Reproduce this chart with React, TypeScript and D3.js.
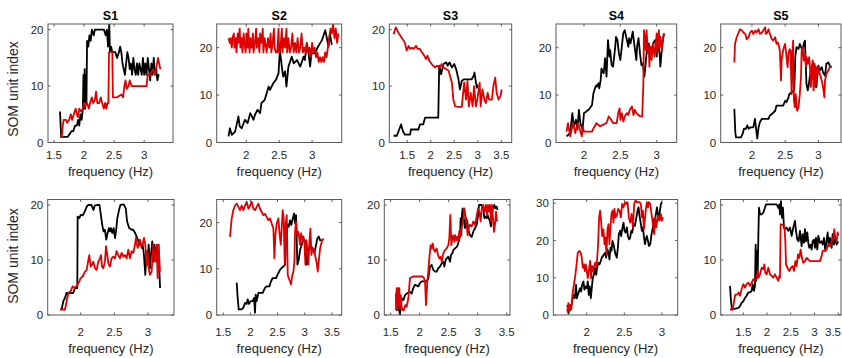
import React from "react";
import * as d3 from "d3";

type Pt = [number, number];

const subjectTitles = ["S1", "S2", "S3", "S4", "S5"];
const xLabelText = "frequency (Hz)";
const yLabelText = "SOM unit index";

const xTicksA = [1.5, 2, 2.5, 3];
const xTicksB = [2, 2.5, 3];
const xTicksC = [1.5, 2, 2.5, 3, 3.5];
const yTicks20 = [0, 10, 20];
const yTicks30 = [0, 10, 20, 30];

// ---------- top row ----------
const s1TopBlack: Pt[] = [[1.60,5.5],[1.61,3],[1.62,1],[1.66,1],[1.70,1],[1.73,1],[1.76,1.5],[1.79,2],[1.82,2],[1.85,3],[1.88,3],[1.90,4],[1.92,3],[1.94,5],[1.96,4],[1.98,6],[1.99,12],[2.0,6],[2.01,13],[2.02,6],[2.03,12],[2.04,7],[2.05,18],[2.07,17],[2.09,19],[2.11,18],[2.13,20],[2.16,19],[2.18,20],[2.25,20],[2.33,20],[2.36,19],[2.38,20],[2.40,17],[2.42,21],[2.43,16],[2.45,17],[2.47,16],[2.52,16],[2.55,15],[2.58,16],[2.60,17],[2.62,16],[2.64,14],[2.66,13],[2.68,12],[2.70,14],[2.72,16],[2.74,15],[2.76,13],[2.78,14],[2.80,12],[2.82,15],[2.84,13],[2.86,12],[2.88,14],[2.90,12],[2.92,14],[2.94,13],[2.96,12],[2.98,15],[3.00,12],[3.02,14],[3.04,12],[3.06,15],[3.08,13],[3.10,11],[3.12,14],[3.14,12],[3.16,15],[3.18,12],[3.20,13],[3.22,11],[3.24,12],[3.25,12]];
const s1TopRed: Pt[] = [[1.60,1],[1.63,1],[1.645,3],[1.66,4],[1.70,4],[1.72,3.5],[1.75,4],[1.78,5],[1.80,4],[1.83,5],[1.86,6],[1.88,5],[1.90,4.5],[1.92,6],[1.95,5.5],[1.98,6],[2.00,7],[2.02,6.5],[2.05,7],[2.08,6],[2.10,7],[2.13,8],[2.15,7],[2.18,7.5],[2.20,9],[2.22,7],[2.25,7],[2.28,8],[2.30,7],[2.33,6],[2.35,7],[2.37,6],[2.39,7],[2.405,7],[2.415,16],[2.47,16],[2.48,8],[2.55,8],[2.62,8.5],[2.65,8],[2.67,10],[2.69,11],[2.71,9.5],[2.74,10],[2.76,11],[2.79,10],[2.83,10],[2.90,10],[3.00,10],[3.04,10],[3.06,12],[3.09,12],[3.12,12.5],[3.15,13],[3.18,12],[3.20,13],[3.23,15],[3.25,14],[3.27,13]];

const s2TopBlack: Pt[] = [[1.73,1.3],[1.75,3],[1.78,1.6],[1.83,2.3],[1.88,5.5],[1.90,3.4],[1.93,3],[1.98,4.8],[2.02,4.1],[2.06,6.2],[2.11,4.8],[2.13,5.8],[2.17,6.9],[2.21,6.2],[2.23,8.3],[2.28,9],[2.34,11.8],[2.36,11.1],[2.41,12.5],[2.45,13.2],[2.49,14.6],[2.51,19.5],[2.54,16],[2.56,13.9],[2.59,15],[2.61,11.8],[2.64,16],[2.69,18.1],[2.72,16.7],[2.77,17.4],[2.82,16],[2.87,18.1],[2.89,17.4],[2.92,20.9],[2.94,19.5],[2.97,16],[2.99,18.8],[3.04,18.8],[3.09,20.2],[3.15,21.6],[3.20,23.7],[3.22,22.3],[3.25,20.2],[3.27,23],[3.30,20.6]];
const s2TopRed: Pt[] = [[1.73,22],[1.75,21],[1.76,22],[1.78,20],[1.79,22],[1.81,23],[1.82,20],[1.84,22],[1.85,19],[1.87,23],[1.88,21],[1.90,24],[1.91,20],[1.93,22],[1.94,19],[1.96,23],[1.97,21],[1.99,19],[2.00,23],[2.02,20],[2.03,24],[2.05,19],[2.06,22],[2.08,20],[2.10,23],[2.11,19],[2.13,21],[2.15,24],[2.16,20],[2.18,22],[2.20,19],[2.21,23],[2.23,21],[2.25,24],[2.26,19],[2.28,22],[2.30,20],[2.31,19],[2.33,22],[2.35,20],[2.37,23],[2.38,19],[2.40,21],[2.42,24],[2.43,20],[2.45,19],[2.47,19],[2.49,24],[2.50,19],[2.52,20],[2.54,24],[2.55,19],[2.57,22],[2.59,20],[2.61,24],[2.62,19],[2.64,22],[2.66,19],[2.68,20],[2.70,23],[2.72,19],[2.74,21],[2.76,19],[2.78,22],[2.80,19],[2.82,20],[2.84,23],[2.86,19],[2.88,20],[2.90,19],[2.92,21],[2.94,19],[2.96,20],[2.98,18],[3.00,21],[3.02,19],[3.04,20],[3.06,18],[3.08,19],[3.10,17],[3.12,18],[3.14,17],[3.16,18],[3.18,17],[3.20,19],[3.22,18],[3.24,20],[3.26,22],[3.28,24],[3.30,23],[3.32,25],[3.34,22],[3.36,24],[3.38,21],[3.40,23]];

const s3TopBlack: Pt[] = [[1.21,1.2],[1.28,1.2],[1.33,2.3],[1.37,3.2],[1.41,2],[1.45,1.4],[1.56,1.4],[1.58,2.3],[1.74,2.3],[1.77,3.2],[1.84,3.2],[1.88,4.4],[2.16,4.4],[2.18,13.6],[2.22,12.1],[2.27,13.9],[2.33,14.2],[2.36,13.6],[2.40,14.2],[2.45,13.3],[2.50,13.9],[2.54,13],[2.59,11.2],[2.62,9.4],[2.66,10.9],[2.70,11.2],[2.87,11.2],[2.91,11.8],[2.93,12.4],[2.95,11.2],[2.98,9.7],[3.0,10.3]];
const s3TopRed: Pt[] = [[1.21,19.2],[1.26,20.4],[1.31,19.5],[1.38,18.6],[1.45,17.7],[1.49,16.3],[1.53,17.1],[1.56,16.6],[1.60,16.8],[1.63,16.6],[1.69,17.1],[1.72,16.6],[1.77,16.6],[1.81,16],[1.84,15.7],[1.90,14.8],[1.93,15.4],[1.97,14.5],[2.02,13.9],[2.09,13.3],[2.13,13.6],[2.20,13.3],[2.23,13.9],[2.27,13.3],[2.33,13],[2.38,12.7],[2.41,11.8],[2.45,10.6],[2.48,7.6],[2.52,6.4],[2.59,6.3],[2.66,6.3],[2.71,10.6],[2.75,7.6],[2.78,10.9],[2.81,6.4],[2.85,8.8],[2.89,6.4],[2.92,10],[2.96,6.4],[2.99,7.6],[3.04,10.6],[3.06,6.4],[3.10,9.4],[3.14,7.6],[3.17,7],[3.21,8.8],[3.24,7.6],[3.30,7.6],[3.33,10],[3.37,11.5],[3.40,8.8],[3.44,7.6],[3.48,8.2],[3.51,9.4]];

const s4TopBlack: Pt[] = [[1.76,1.3],[1.81,2],[1.84,6.2],[1.86,3.4],[1.89,4.8],[1.91,2.7],[1.93,6.9],[1.95,4.1],[1.98,2.7],[2.0,6.2],[2.03,6.5],[2.06,6.9],[2.08,7.2],[2.11,7.9],[2.13,10.4],[2.15,11.4],[2.17,12.1],[2.18,11.8],[2.20,12.5],[2.21,11.4],[2.23,13.2],[2.24,15.6],[2.27,14.6],[2.28,16],[2.29,17.8],[2.31,13.9],[2.33,21.6],[2.35,18.1],[2.36,19.5],[2.38,16.3],[2.40,16],[2.43,20.2],[2.44,22.3],[2.46,21.6],[2.48,18.8],[2.50,17.4],[2.52,20.2],[2.54,23],[2.56,23.7],[2.59,21.6],[2.61,20.2],[2.62,22],[2.64,20.9],[2.67,23.4],[2.69,20.9],[2.72,17.4],[2.73,20.2],[2.75,22],[2.77,18.8],[2.79,16.3],[2.81,16.7],[2.83,13.9],[2.84,15.3],[2.86,18.8],[2.89,20.9],[2.91,18.5],[2.93,19.5],[2.95,20.9],[2.98,21.6],[3.0,18.1],[3.02,20.9],[3.04,18.8],[3.05,16],[3.07,19.5],[3.08,20.9],[3.10,23]];
const s4TopRed: Pt[] = [[1.76,2.3],[1.78,4.1],[1.81,1.3],[1.83,2.7],[1.85,4.1],[1.88,2],[1.90,3.4],[1.92,4.1],[1.95,2.3],[1.97,1.3],[1.98,3.4],[2.0,2.3],[2.11,2.3],[2.13,3],[2.15,3.4],[2.17,4.1],[2.20,3.7],[2.22,3.4],[2.31,4.1],[2.34,5.5],[2.36,5.1],[2.40,4.1],[2.45,4.1],[2.47,6.2],[2.49,7.2],[2.50,4.8],[2.52,6.2],[2.54,4.4],[2.56,5.5],[2.59,6.2],[2.61,5.8],[2.63,6.9],[2.66,7.6],[2.68,5.8],[2.70,6.9],[2.72,6.2],[2.75,5.8],[2.77,5.5],[2.80,5.5],[2.816,12.1],[2.825,23.7],[2.84,21.6],[2.85,19.5],[2.86,23.7],[2.88,18.8],[2.89,20.2],[2.90,16],[2.91,20.2],[2.93,17.4],[2.94,19.5],[2.95,20.9],[2.97,18.1],[2.98,19.5],[3.0,23],[3.01,18.8],[3.03,23.7],[3.04,20.2],[3.05,22.3],[3.07,19.5],[3.08,21.6],[3.10,23]];

const s5TopBlack: Pt[] = [[1.735,7.1],[1.75,2.2],[1.76,1.1],[1.835,1.1],[1.86,1.8],[1.88,2.9],[1.91,2.9],[1.93,3.6],[1.95,2.9],[1.98,3.2],[2.02,3.2],[2.046,5],[2.06,3.2],[2.08,0.8],[2.10,3.2],[2.12,4.3],[2.15,5],[2.25,5],[2.27,5.7],[2.30,6],[2.35,6.7],[2.37,7.8],[2.47,7.8],[2.50,8.8],[2.52,8.5],[2.55,9.5],[2.56,10.2],[2.60,10.6],[2.62,10.9],[2.637,11.3],[2.652,18],[2.67,20.1],[2.70,19.7],[2.72,20.8],[2.74,20.1],[2.76,19.4],[2.78,20.8],[2.798,21.5],[2.808,17.3],[2.82,12.4],[2.84,11],[2.85,11.7],[2.87,13.8],[2.90,15.9],[2.92,16.9],[2.95,15.9],[2.97,11.7],[2.99,15.2],[3.0,16.2],[3.02,15.2],[3.05,15.9],[3.07,14.8],[3.10,14.1],[3.12,16.6],[3.15,16.9],[3.17,16.2],[3.20,15.9]];
const s5TopRed: Pt[] = [[1.735,16.9],[1.745,20.8],[1.77,22.2],[1.80,23.2],[1.82,23.9],[1.85,23.6],[1.87,23.2],[1.90,22.9],[1.92,21.8],[1.95,22.2],[1.97,23.2],[2.0,23.6],[2.02,22.9],[2.05,23.6],[2.07,23.2],[2.10,23.9],[2.12,22.9],[2.15,23.2],[2.17,23.6],[2.20,24.3],[2.21,22.9],[2.23,23.2],[2.25,23.9],[2.27,22.9],[2.30,21.8],[2.32,21.5],[2.35,22.2],[2.37,20.8],[2.39,21.1],[2.41,20.1],[2.42,19.4],[2.437,13.1],[2.447,17.3],[2.46,18.7],[2.48,20.1],[2.50,20.8],[2.52,18],[2.537,15.9],[2.55,18.7],[2.567,19.7],[2.58,19.4],[2.597,10.2],[2.607,18.7],[2.62,21.5],[2.632,8.8],[2.647,7.4],[2.66,10.2],[2.67,8.1],[2.68,6.7],[2.70,7.4],[2.71,8.8],[2.72,10.2],[2.738,13.8],[2.748,19.4],[2.763,20.1],[2.78,17.3],[2.80,18.7],[2.813,15.9],[2.823,18],[2.84,16.6],[2.86,18],[2.87,16.6],[2.888,11.7],[2.903,15.9],[2.913,17.3],[2.928,11],[2.943,16.6],[2.958,11.7],[2.973,15.9],[2.99,14.5],[3.0,15.9],[3.02,14.5],[3.05,13.1],[3.07,11.7],[3.09,9.5],[3.10,13.1],[3.12,14.5],[3.15,15.2],[3.17,15.9],[3.20,15.9]];

// ---------- bottom row ----------
const s1BotBlack: Pt[] = [[1.717,1],[1.742,2.5],[1.767,3.1],[1.79,4],[1.89,4],[1.915,4.9],[1.95,4.9],[1.955,17.9],[1.98,17.6],[2.0,18.2],[2.03,18.1],[2.06,18.8],[2.09,19.7],[2.11,20],[2.16,20],[2.19,19.1],[2.21,19.9],[2.24,20],[2.28,20],[2.30,18.2],[2.32,16.4],[2.34,15.2],[2.36,15.5],[2.38,13.7],[2.40,14.9],[2.42,15.8],[2.435,15.2],[2.45,15.8],[2.47,14.9],[2.49,15.8],[2.51,14],[2.525,15.2],[2.545,17.6],[2.57,19.1],[2.59,20],[2.64,20.1],[2.67,19.4],[2.69,17],[2.72,15.8],[2.76,15.5],[2.78,15.5],[2.81,14.9],[2.83,14.3],[2.86,13.4],[2.87,12.8],[2.89,13.1],[2.91,12.2],[2.92,12.8],[2.94,11],[2.96,7.3],[2.98,11.6],[2.995,9.1],[3.01,12.8],[3.03,8.5],[3.045,11],[3.064,13.4],[3.08,9.7],[3.094,12.8],[3.114,11.6],[3.13,9.7],[3.154,12.8],[3.17,7.9],[3.18,4.9]];
const s1BotRed: Pt[] = [[1.693,1],[1.767,1],[1.816,4],[1.85,4.3],[1.88,5.2],[1.915,4.9],[1.95,5.5],[1.98,6.1],[2.0,6.7],[2.03,7],[2.064,7.9],[2.09,8.2],[2.11,9.7],[2.128,10.9],[2.148,8.8],[2.168,9.1],[2.188,9.7],[2.213,8.5],[2.237,8.2],[2.262,9.7],[2.287,10.3],[2.302,10.9],[2.317,8.8],[2.336,8.5],[2.361,9.7],[2.376,12.5],[2.396,10.9],[2.411,9.4],[2.435,8.8],[2.46,10.3],[2.485,10.6],[2.51,10.3],[2.534,11.6],[2.559,10.9],[2.584,10.3],[2.609,11.3],[2.634,10.6],[2.658,10.9],[2.683,10.3],[2.708,11.9],[2.733,10.3],[2.757,11.6],[2.782,11.3],[2.807,12.8],[2.822,14],[2.832,13.1],[2.847,12.2],[2.866,12.8],[2.881,13.7],[2.901,12.5],[2.921,12.8],[2.941,14],[2.96,12.8],[2.98,9.1],[2.995,11.6],[3.01,8.5],[3.03,7.3],[3.055,7.9],[3.079,12.8],[3.104,9.7],[3.129,12.8],[3.144,6.7],[3.159,12.8],[3.178,7.9]];

const s2BotBlack: Pt[] = [[1.748,7],[1.766,3.7],[1.785,1.2],[1.84,1.2],[1.871,1.6],[1.901,2.6],[1.932,2.4],[1.95,3.4],[1.975,2.4],[2.006,3],[2.042,3],[2.067,3.7],[2.085,0.5],[2.098,4.4],[2.116,3],[2.147,4.8],[2.227,4.8],[2.27,5.9],[2.30,6.2],[2.349,6.2],[2.38,7.3],[2.411,8],[2.472,8],[2.497,8.7],[2.515,9.1],[2.546,9.8],[2.576,10.2],[2.607,10.5],[2.638,10.9],[2.656,15.2],[2.681,19.5],[2.705,19.1],[2.73,20.5],[2.754,19.5],[2.779,20.9],[2.804,22],[2.822,19.8],[2.84,21.6],[2.865,10.9],[2.89,12],[2.914,14.1],[2.945,15.2],[2.975,16.6],[3.006,15.9],[3.037,10.9],[3.061,13.7],[3.086,14.1],[3.111,15.2],[3.147,14.1],[3.178,13.4],[3.209,15.2],[3.233,16.6],[3.258,17],[3.282,16.2],[3.313,16.2]];
const s2BotRed: Pt[] = [[1.625,16.9],[1.656,20.9],[1.686,22.7],[1.717,23.7],[1.748,24.1],[1.778,23.4],[1.809,22.7],[1.84,23.7],[1.871,22.7],[1.901,23.7],[1.932,24.5],[1.963,23],[1.993,23.7],[2.024,24.5],[2.055,23],[2.085,22.7],[2.116,23.4],[2.147,24.1],[2.177,23],[2.208,22.3],[2.239,21.6],[2.27,21.9],[2.30,21.2],[2.331,20.5],[2.362,20.9],[2.392,19.8],[2.423,18.7],[2.441,12.3],[2.46,17.3],[2.484,19.8],[2.515,20.9],[2.534,18],[2.558,15.2],[2.576,18.7],[2.595,22.7],[2.613,20.9],[2.632,10.9],[2.65,19.8],[2.669,21.6],[2.687,8.7],[2.705,8],[2.73,7.3],[2.748,6.6],[2.767,8.4],[2.791,9.4],[2.81,11.6],[2.822,18],[2.84,20.2],[2.859,17.3],[2.883,18],[2.914,15.2],[2.933,17.7],[2.957,16.2],[2.975,17],[2.994,15.5],[3.012,10.9],[3.031,16.2],[3.049,14.4],[3.068,10.9],[3.086,15.9],[3.104,18.7],[3.123,13],[3.141,14.4],[3.16,14.4],[3.19,13],[3.221,11.2],[3.239,9.4],[3.258,11.6],[3.282,14.4],[3.313,15.9],[3.344,16.6]];

const s3BotBlack: Pt[] = [[1.592,3.9],[1.603,0.9],[1.632,1.8],[1.66,0],[1.689,3],[1.718,2.7],[1.747,3.6],[1.775,3.9],[1.833,4.2],[1.862,3.9],[1.89,4.9],[1.919,5.5],[1.977,5.2],[2.005,5.8],[2.034,6.1],[2.12,6.1],[2.149,6.7],[2.178,8.8],[2.206,9.1],[2.235,8.2],[2.264,7.9],[2.293,7.9],[2.321,8.5],[2.35,8.8],[2.379,9.4],[2.408,9.7],[2.425,8.8],[2.448,10],[2.465,10.3],[2.494,10.6],[2.523,9.7],[2.54,10.9],[2.563,11.2],[2.58,11.8],[2.609,12.1],[2.638,12.4],[2.655,12.7],[2.672,13.3],[2.695,14.5],[2.706,17.6],[2.718,14.5],[2.729,18.2],[2.741,19.4],[2.758,17.6],[2.781,15.8],[2.798,17.6],[2.821,17],[2.839,15.5],[2.867,14.5],[2.896,14.2],[2.925,15.2],[2.954,15.8],[2.982,16.4],[3.0,17.6],[3.023,20],[3.069,20],[3.097,19.4],[3.114,17.6],[3.137,17.9],[3.155,17.6],[3.172,18.2],[3.189,17.6],[3.212,17],[3.229,16.1],[3.252,18.8],[3.27,19.7],[3.287,20],[3.304,19.4],[3.327,19.7],[3.344,19.1]];
const s3BotRed: Pt[] = [[1.592,0.9],[1.603,4.9],[1.615,0.9],[1.626,4.9],[1.638,1.8],[1.649,4.9],[1.66,1.2],[1.672,3.6],[1.689,1.5],[1.706,0.9],[1.729,0.9],[1.752,1.8],[1.775,1.5],[1.804,3],[1.833,6.7],[1.89,7],[2.051,7],[2.074,6.7],[2.092,6.1],[2.109,1.8],[2.132,6.1],[2.149,7.9],[2.166,10.3],[2.189,12.7],[2.206,12.1],[2.224,13],[2.247,11.8],[2.264,11.5],[2.293,12.1],[2.316,10.9],[2.339,10.3],[2.362,10.6],[2.379,9.7],[2.408,11.2],[2.436,11.8],[2.465,12.1],[2.494,12.7],[2.511,14],[2.528,18.2],[2.546,12.7],[2.563,14],[2.58,14.5],[2.597,13.3],[2.615,14.5],[2.632,13.6],[2.649,14.2],[2.666,13.6],[2.683,15.2],[2.701,14.2],[2.718,15.8],[2.735,16.4],[2.752,17.6],[2.77,19.4],[2.787,18.2],[2.81,16.4],[2.827,14.5],[2.844,15.8],[2.867,16.4],[2.896,16.1],[2.925,17],[2.954,16.4],[2.982,17.9],[3.005,19.4],[3.028,18.8],[3.051,17],[3.074,19.7],[3.097,20],[3.126,18.8],[3.143,20],[3.16,18.2],[3.178,20],[3.195,18.8],[3.212,20],[3.229,17],[3.247,20],[3.264,17.6],[3.281,15.1],[3.298,16.4],[3.316,18.8],[3.333,17]];

const s4BotBlack: Pt[] = [[1.742,2.7],[1.756,0.4],[1.769,2.3],[1.787,1.4],[1.805,3.6],[1.822,5.4],[1.84,4.5],[1.858,8.1],[1.867,4.5],[1.889,5.9],[1.911,7.2],[1.925,6.3],[1.938,8.1],[1.956,9],[1.969,6.8],[1.982,7.7],[2.0,7.2],[2.014,9],[2.027,5.4],[2.04,7.7],[2.054,4.5],[2.067,7.2],[2.08,9.9],[2.094,10.8],[2.111,12.7],[2.125,10.8],[2.138,12.7],[2.156,14],[2.169,13.6],[2.187,14.5],[2.2,15.4],[2.214,15.8],[2.231,16.3],[2.245,16.7],[2.258,15.4],[2.276,17.6],[2.289,16.7],[2.302,14.9],[2.316,18.1],[2.329,17.2],[2.342,19.9],[2.356,19],[2.369,17.6],[2.382,16.3],[2.4,15.4],[2.414,18.1],[2.427,21.7],[2.445,22.6],[2.458,21.2],[2.471,23],[2.489,24.8],[2.502,22.6],[2.516,22.1],[2.534,23.5],[2.547,21.2],[2.565,20.3],[2.578,20.8],[2.591,22.6],[2.605,22.1],[2.622,24.4],[2.64,23.9],[2.658,25.8],[2.676,28],[2.689,28.9],[2.702,26.7],[2.72,24.4],[2.734,22.6],[2.747,23.5],[2.76,21.2],[2.774,19],[2.787,20.3],[2.8,21.2],[2.814,19.9],[2.827,18.5],[2.845,19],[2.862,21.7],[2.88,23.5],[2.894,25.8],[2.907,25.3],[2.92,27.1],[2.934,28.9],[2.947,27.1],[2.96,25.8],[2.974,28],[2.987,29.8],[3.0,30.3]];
const s4BotRed: Pt[] = [[1.742,0.9],[1.756,3.2],[1.769,0.9],[1.778,2.7],[1.796,1.8],[1.809,5.4],[1.822,7.2],[1.836,9],[1.849,10.8],[1.867,14],[1.88,16.7],[1.902,17.2],[1.92,16.7],[1.934,15.4],[1.947,12.7],[1.96,13.6],[1.974,11.8],[1.987,13.6],[2.0,11.8],[2.014,9.9],[2.027,11.8],[2.045,14.5],[2.058,9.9],[2.071,13.1],[2.085,11.8],[2.098,13.1],[2.111,14],[2.125,13.1],[2.138,14.9],[2.151,19],[2.165,26.2],[2.178,28],[2.191,25.3],[2.205,21.2],[2.222,23],[2.236,19],[2.249,20.8],[2.262,16.3],[2.276,23],[2.289,24.4],[2.302,19],[2.316,23.5],[2.329,27.1],[2.342,28],[2.356,24.8],[2.369,28.5],[2.382,26.2],[2.4,26.7],[2.418,28.5],[2.436,28],[2.454,26.2],[2.471,29.8],[2.489,28.9],[2.507,30.3],[2.525,29.8],[2.542,30.3],[2.56,26.2],[2.578,24.8],[2.596,27.1],[2.614,23.5],[2.631,29.8],[2.649,30.8],[2.667,30.3],[2.702,30.3],[2.72,29.8],[2.734,26.2],[2.747,28],[2.76,23],[2.774,25.8],[2.787,28.5],[2.8,30.3],[2.814,28.9],[2.827,30.3],[2.845,29.8],[2.862,27.1],[2.88,24.4],[2.898,21.7],[2.911,26.2],[2.925,23.5],[2.938,25.3],[2.951,26.7],[2.969,25.3],[2.987,27.1],[3.0,25.3],[3.014,26.2]];

const s5BotBlack: Pt[] = [[1.22,5.3],[1.241,2.5],[1.262,1],[1.395,1.3],[1.43,1.6],[1.465,2.2],[1.5,2.5],[1.535,3.1],[1.57,3.5],[1.606,4.1],[1.641,4.1],[1.676,4.4],[1.697,5.6],[1.725,4.4],[1.746,5.3],[1.76,12.8],[1.774,6.2],[1.788,11.6],[1.802,6.8],[1.816,14],[1.83,19.5],[1.851,18.3],[1.886,18.3],[1.921,18.6],[1.956,19.5],[1.977,20.1],[2.202,20.1],[2.237,19.5],[2.258,20.1],[2.272,18.3],[2.293,20.7],[2.314,17.7],[2.335,19.5],[2.356,15.9],[2.377,15.6],[2.413,15.9],[2.448,15.3],[2.483,15.9],[2.518,14.4],[2.553,15.9],[2.588,17.1],[2.609,15.3],[2.637,13.7],[2.665,13.4],[2.693,15.3],[2.728,12.5],[2.749,14.7],[2.777,13.1],[2.799,15.6],[2.82,13.4],[2.848,15],[2.869,13.1],[2.89,12.2],[2.918,12.8],[2.939,11.9],[2.96,13.4],[2.988,13.7],[3.009,12.2],[3.03,14],[3.058,11.9],[3.079,14.4],[3.114,13.1],[3.149,13.4],[3.17,12.8],[3.199,14],[3.227,11.6],[3.255,13.7],[3.276,15],[3.297,12.8],[3.325,14],[3.36,12.2],[3.381,14.7],[3.409,12.8],[3.437,14],[3.465,12.8],[3.5,13.4]];
const s5BotRed: Pt[] = [[1.22,1],[1.276,1],[1.304,2.5],[1.332,3.7],[1.374,3.7],[1.402,4.1],[1.43,3.5],[1.465,4.7],[1.5,5.6],[1.535,5],[1.57,5.6],[1.606,5.9],[1.641,5.3],[1.676,5.9],[1.711,6.5],[1.746,6.2],[1.781,6.8],[1.802,8],[1.823,6.8],[1.851,7.4],[1.886,8.6],[1.921,8.3],[1.942,9.2],[1.963,7.7],[1.992,7.4],[2.027,8.6],[2.062,7.4],[2.097,7.1],[2.132,6.8],[2.167,7.4],[2.202,6.8],[2.237,6.2],[2.258,7.1],[2.272,6.8],[2.286,16.5],[2.364,16.2],[2.385,13.4],[2.399,9.2],[2.427,8.6],[2.469,8],[2.504,8.6],[2.539,8.9],[2.567,8],[2.595,9.8],[2.623,8.9],[2.651,11],[2.679,10.4],[2.707,11.9],[2.735,10.4],[2.763,9.5],[2.799,9.8],[2.834,10.4],[2.869,10.1],[2.904,9.8],[3.114,9.8],[3.149,10.7],[3.17,11.6],[3.255,11.9],[3.29,12.8],[3.325,12.5],[3.36,13.4],[3.395,14],[3.416,15.6],[3.437,14],[3.465,13.4],[3.486,15],[3.5,14.4]];

// ---------- layout ----------
const ROW_TOP = { top: 24, bottom: 142.5, tickBase: 159, labelBase: 175.5, yLabelCenter: 89, titleBase: 19.5 };
const ROW_BOT = { top: 199.5, bottom: 315, tickBase: 336, labelBase: 353, yLabelCenter: 256, titleBase: 0 };

const panels = [
  { row: ROW_TOP, left: 48, right: 173, xDomain: [1.4, 3.48], yDomain: [0, 21], xTicks: xTicksA, yTicks: yTicks20, black: s1TopBlack, red: s1TopRed, title: subjectTitles[0], yLabel: true },
  { row: ROW_TOP, left: 216.7, right: 341.7, xDomain: [1.55, 3.45], yDomain: [0, 25], xTicks: xTicksB, yTicks: yTicks20, black: s2TopBlack, red: s2TopRed, title: subjectTitles[1], yLabel: false },
  { row: ROW_TOP, left: 389.3, right: 511.7, xDomain: [1.12, 3.72], yDomain: [0, 21], xTicks: xTicksC, yTicks: yTicks20, black: s3TopBlack, red: s3TopRed, title: subjectTitles[2], yLabel: false },
  { row: ROW_TOP, left: 556, right: 676.7, xDomain: [1.615, 3.275], yDomain: [0, 25], xTicks: xTicksB, yTicks: yTicks20, black: s4TopBlack, red: s4TopRed, title: subjectTitles[3], yLabel: false },
  { row: ROW_TOP, left: 720.7, right: 841, xDomain: [1.53, 3.34], yDomain: [0, 25], xTicks: xTicksB, yTicks: yTicks20, black: s5TopBlack, red: s5TopRed, title: subjectTitles[4], yLabel: false },
  { row: ROW_BOT, left: 47.7, right: 174, xDomain: [1.51, 3.387], yDomain: [0, 21], xTicks: xTicksB, yTicks: yTicks20, black: s1BotBlack, red: s1BotRed, title: "", yLabel: true },
  { row: ROW_BOT, left: 216.7, right: 341.7, xDomain: [1.38, 3.68], yDomain: [0, 25], xTicks: xTicksC, yTicks: yTicks20, black: s2BotBlack, red: s2BotRed, title: "", yLabel: false },
  { row: ROW_BOT, left: 384.3, right: 510, xDomain: [1.39, 3.557], yDomain: [0, 21], xTicks: xTicksC, yTicks: yTicks20, black: s3BotBlack, red: s3BotRed, title: "", yLabel: false },
  { row: ROW_BOT, left: 553.3, right: 677.7, xDomain: [1.555, 3.21], yDomain: [0, 31], xTicks: xTicksB, yTicks: yTicks30, black: s4BotBlack, red: s4BotRed, title: "", yLabel: false },
  { row: ROW_BOT, left: 720.7, right: 841, xDomain: [1.024, 3.557], yDomain: [0, 21], xTicks: xTicksC, yTicks: yTicks20, black: s5BotBlack, red: s5BotRed, title: "", yLabel: false },
];

const FONT = "'Liberation Sans', Arial, Helvetica, sans-serif";
const AXIS_COLOR = "#5a5a5a";
const TEXT_COLOR = "#262626";
const RED = "#e00000";
const TICK_LEN = 2.5;
const LINE_W = 1.8;

function Panel({ cfg, idx }: { cfg: any; idx: number }) {
  const { row, left, right } = cfg;
  const x = d3.scaleLinear().domain(cfg.xDomain).range([left, right]);
  const y = d3.scaleLinear().domain(cfg.yDomain).range([row.bottom, row.top]);
  const line = d3.line<Pt>().x((d) => x(d[0])).y((d) => y(d[1]));
  const clipId = `clip-${idx}`;
  return (
    <g>
      <defs>
        <clipPath id={clipId}>
          <rect x={left} y={row.top} width={right - left} height={row.bottom - row.top} />
        </clipPath>
      </defs>
      <rect x={left} y={row.top} width={right - left} height={row.bottom - row.top} fill="#fff" />
      <g clipPath={`url(#${clipId})`}>
        <path d={line(cfg.black) || ""} fill="none" stroke="#000" strokeWidth={LINE_W} strokeLinejoin="round" />
        <path d={line(cfg.red) || ""} fill="none" stroke={RED} strokeWidth={LINE_W} strokeLinejoin="round" />
      </g>
      <rect x={left} y={row.top} width={right - left} height={row.bottom - row.top} fill="none" stroke={AXIS_COLOR} strokeWidth={1} />
      {cfg.xTicks.map((t: number) => {
        const xp = x(t);
        const anchorEnd = xp > 830;
        return (
          <g key={`xt${t}`}>
            <line x1={xp} x2={xp} y1={row.bottom} y2={row.bottom - TICK_LEN} stroke={AXIS_COLOR} />
            <line x1={xp} x2={xp} y1={row.top} y2={row.top + TICK_LEN} stroke={AXIS_COLOR} />
            <text x={anchorEnd ? 841 : xp} y={row.tickBase} textAnchor={anchorEnd ? "end" : "middle"} fontSize={11.5} fill={TEXT_COLOR} fontFamily={FONT}>
              {String(t)}
            </text>
          </g>
        );
      })}
      {cfg.yTicks.map((t: number) => (
        <g key={`yt${t}`}>
          <line x1={left} x2={left + TICK_LEN} y1={y(t)} y2={y(t)} stroke={AXIS_COLOR} />
          <line x1={right} x2={right - TICK_LEN} y1={y(t)} y2={y(t)} stroke={AXIS_COLOR} />
          <text x={left - 4.5} y={y(t) + 4.2} textAnchor="end" fontSize={11.5} fill={TEXT_COLOR} fontFamily={FONT}>
            {String(t)}
          </text>
        </g>
      ))}
      <text x={(left + right) / 2} y={row.labelBase} textAnchor="middle" fontSize={13} fill={TEXT_COLOR} fontFamily={FONT}>
        {xLabelText}
      </text>
      {cfg.title ? (
        <text x={(left + right) / 2} y={row.titleBase} textAnchor="middle" fontSize={12.5} fontWeight="bold" fill="#000" fontFamily={FONT}>
          {cfg.title}
        </text>
      ) : null}
      {cfg.yLabel ? (
        <text transform={`translate(17.5,${row.yLabelCenter}) rotate(-90)`} textAnchor="middle" fontSize={14} fill={TEXT_COLOR} fontFamily={FONT}>
          {yLabelText}
        </text>
      ) : null}
    </g>
  );
}

export default function App() {
  return (
    <div style={{ position: "absolute", left: 0, top: 0 }}>
      <svg width={842} height={358} style={{ display: "block", background: "#fff" }}>
        <rect x={0} y={0} width={842} height={358} fill="#fff" />
        {panels.map((p, i) => (
          <Panel key={i} cfg={p} idx={i} />
        ))}
      </svg>
    </div>
  );
}
